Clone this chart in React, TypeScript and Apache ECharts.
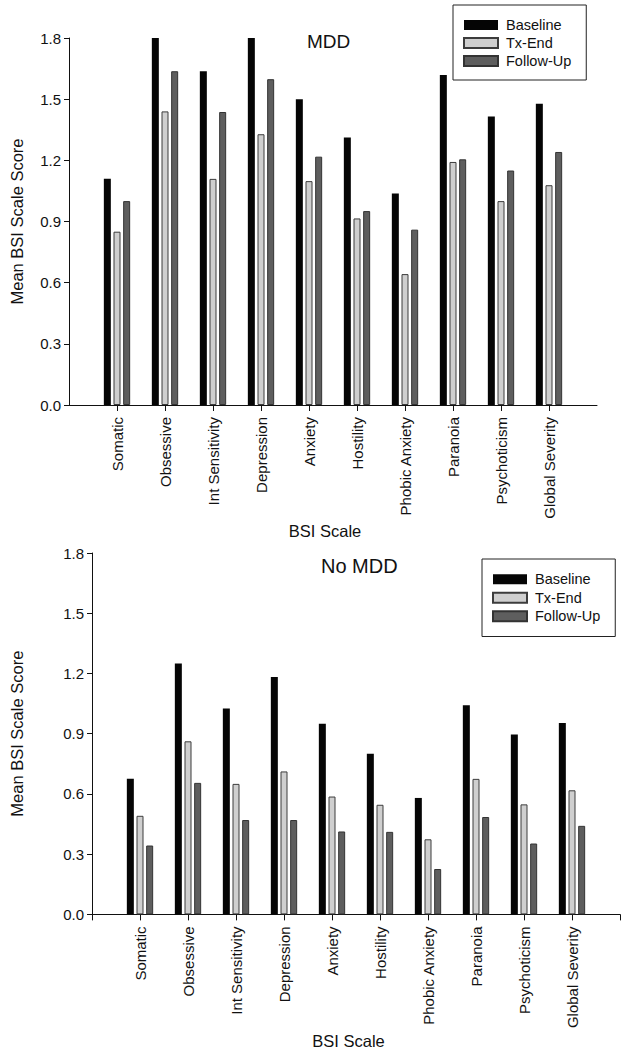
import React, { useEffect, useRef } from "react";
import * as echarts from "echarts";

const categories = [
  "Somatic",
  "Obsessive",
  "Int Sensitivity",
  "Depression",
  "Anxiety",
  "Hostility",
  "Phobic Anxiety",
  "Paranoia",
  "Psychoticism",
  "Global Severity",
];

const seriesNames = ["Baseline", "Tx-End", "Follow-Up"];

// MDD group
const mddBaseline = [1.11, 1.8, 1.637, 1.8, 1.499, 1.312, 1.037, 1.618, 1.415, 1.478];
const mddTxEnd = [0.85, 1.44, 1.109, 1.328, 1.098, 0.915, 0.642, 1.192, 1.0, 1.078];
const mddFollowUp = [1.0, 1.637, 1.437, 1.598, 1.218, 0.951, 0.86, 1.205, 1.15, 1.241];

// No MDD group
const noBaseline = [0.676, 1.25, 1.026, 1.182, 0.95, 0.8, 0.58, 1.042, 0.896, 0.953];
const noTxEnd = [0.491, 0.862, 0.65, 0.712, 0.587, 0.546, 0.374, 0.675, 0.548, 0.618];
const noFollowUp = [0.343, 0.655, 0.47, 0.47, 0.413, 0.411, 0.226, 0.485, 0.353, 0.441];

const yTicks = [0, 0.3, 0.6, 0.9, 1.2, 1.5, 1.8];

const FONT = "'Liberation Sans', Arial, Helvetica, sans-serif";

const barStyles = [
  { color: "#050505", borderColor: "#000000", borderWidth: 0 },
  { color: "#cfcfcf", borderColor: "#3c3c3c", borderWidth: 1 },
  { color: "#5e5e5e", borderColor: "#333333", borderWidth: 1 },
];

export default function App() {
  const ref = useRef<HTMLDivElement>(null);

  useEffect(() => {
    document.body.style.margin = "0";
    if (!ref.current) return;
    const chart = echarts.init(ref.current, undefined, { renderer: "svg" });

    const padded = ["", ...categories, ""];
    const pad = (arr: number[]) => [null, ...arr, null];

    const xAxisCommon = (idx: number, allTicks: boolean, gap: number, shift: number) => ({
      type: "category",
      gridIndex: idx,
      data: padded,
      boundaryGap: false,
      name: "BSI Scale",
      nameLocation: "middle",
      nameGap: gap,
      nameTextStyle: {
        fontFamily: FONT,
        fontSize: 16.5,
        color: "#111",
        padding: [0, shift, 0, 0],
      },
      axisLine: { show: true, lineStyle: { color: "#111", width: 1 } },
      axisTick: {
        show: true,
        length: 6,
        inside: false,
        interval: allTicks ? 0 : (i: number) => i > 0 && i < padded.length - 1,
        lineStyle: { color: "#111" },
      },
      axisLabel: {
        interval: 0,
        rotate: 90,
        margin: 12,
        fontFamily: FONT,
        fontSize: 15,
        color: "#111",
      },
      splitLine: { show: false },
    });

    const yAxisCommon = (idx: number, gap: number) => ({
      type: "value",
      gridIndex: idx,
      min: yTicks[0],
      max: yTicks[yTicks.length - 1],
      interval: 0.3,
      name: "Mean BSI Scale Score",
      nameLocation: "middle",
      nameGap: gap,
      nameRotate: 90,
      nameTextStyle: { fontFamily: FONT, fontSize: 16.5, color: "#111" },
      axisLine: { show: true, lineStyle: { color: "#111", width: 1 } },
      axisTick: { show: true, length: 5, inside: false, lineStyle: { color: "#111" } },
      axisLabel: {
        margin: 8,
        fontFamily: FONT,
        fontSize: 15,
        color: "#111",
        formatter: (v: number) => v.toFixed(1),
      },
      splitLine: { show: false },
    });

    const groups = [
      [mddBaseline, mddTxEnd, mddFollowUp],
      [noBaseline, noTxEnd, noFollowUp],
    ];

    const series: any[] = [];
    groups.forEach((g, gi) => {
      g.forEach((vals, si) => {
        series.push({
          type: "bar",
          name: seriesNames[si],
          xAxisIndex: gi,
          yAxisIndex: gi,
          data: pad(vals),
          barWidth: 7,
          barGap: "38%",
          itemStyle: barStyles[si],
          emphasis: { disabled: true },
        });
      });
    });

    const legendCommon = {
      orient: "vertical",
      icon: "rect",
      itemWidth: 34,
      itemHeight: 10,
      itemGap: 0,
      borderColor: "#222",
      borderWidth: 1,
      borderRadius: 0,
      selectedMode: false,
      data: seriesNames,
      textStyle: {
        fontFamily: FONT,
        fontSize: 14.5,
        color: "#111",
        padding: [0, 0, 0, 3],
      },
    };

    chart.setOption({
      animation: false,
      backgroundColor: "#ffffff",
      title: [
        {
          text: "MDD",
          left: 307,
          top: 32,
          padding: 0,
          textStyle: { fontFamily: FONT, fontSize: 19, fontWeight: "normal", color: "#111" },
        },
        {
          text: "No MDD",
          left: 321,
          top: 556,
          padding: 0,
          textStyle: { fontFamily: FONT, fontSize: 20, fontWeight: "normal", color: "#111" },
        },
      ],
      legend: [
        {
          ...legendCommon,
          left: 453,
          top: 5,
          padding: [11, 15, 10, 10],
          textStyle: { ...legendCommon.textStyle, lineHeight: 18 },
        },
        {
          ...legendCommon,
          left: 482,
          top: 559,
          padding: [11, 15, 11, 10],
          textStyle: { ...legendCommon.textStyle, lineHeight: 18.5 },
        },
      ],
      grid: [
        { left: 69, right: 29, top: 38, height: 367, containLabel: false },
        { left: 92, right: 6, top: 553, height: 369, containLabel: false },
      ],
      xAxis: [xAxisCommon(0, false, 114, 16), xAxisCommon(1, true, 107, 15)],
      yAxis: [yAxisCommon(0, 44), yAxisCommon(1, 67)],
      series,
    });

    return () => chart.dispose();
  }, []);

  return <div ref={ref} style={{ width: 626, height: 1050 }} />;
}
